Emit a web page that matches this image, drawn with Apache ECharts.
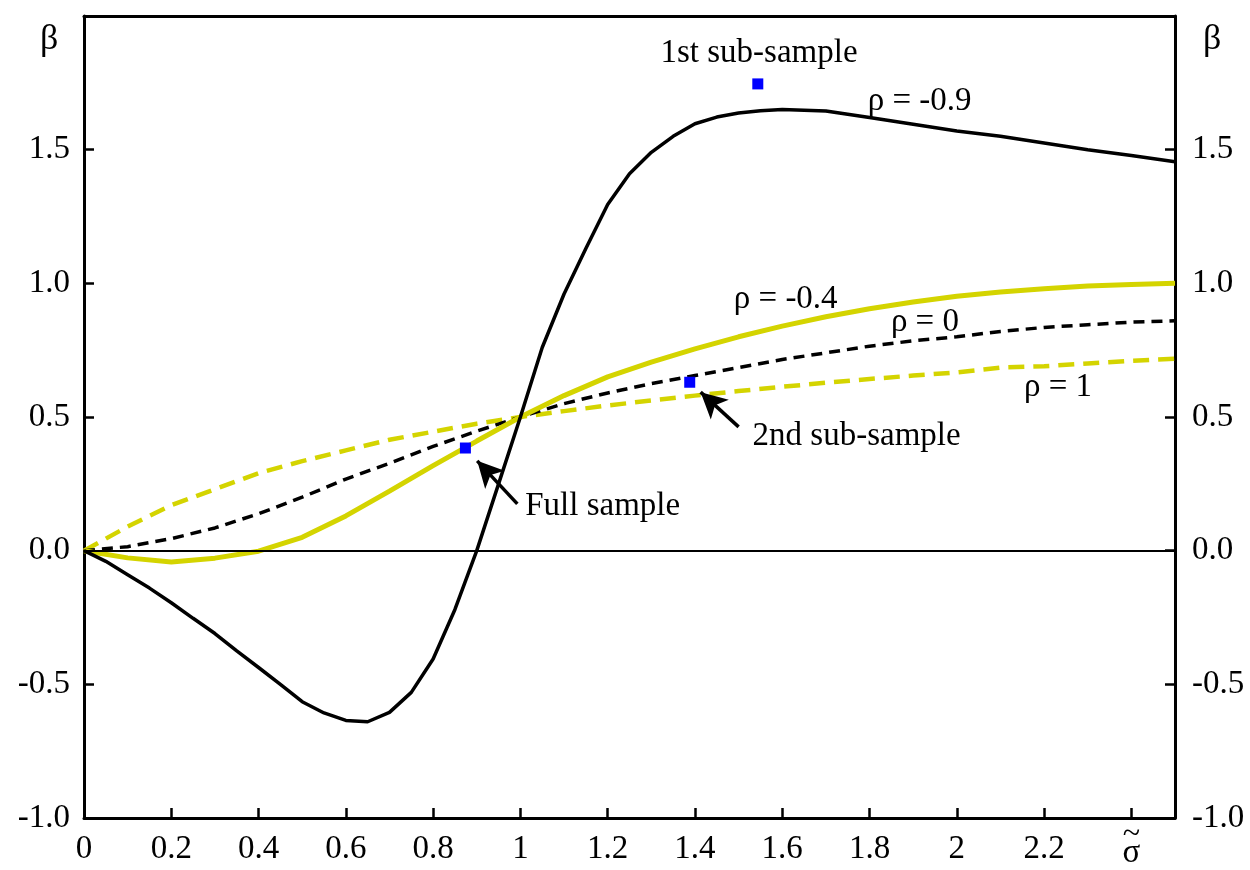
<!DOCTYPE html>
<html>
<head>
<meta charset="utf-8">
<script src="https://cdn.jsdelivr.net/npm/echarts@6/dist/echarts.min.js"></script>
<style>
  html, body { margin: 0; padding: 0; background: #fff; }
  #chart { width: 1250px; height: 870px; }
</style>
</head>
<body>
<div id="chart"></div>
<script>
// x grid for the smooth curves
var gridX = [0, 0.1, 0.2, 0.3, 0.4, 0.5, 0.6, 0.7, 0.8, 0.9, 1.0, 1.1, 1.2, 1.3, 1.4,
  1.5, 1.6, 1.7, 1.8, 1.9, 2.0, 2.1, 2.2, 2.3, 2.4, 2.5]

// rho = -0.9 (finer steps)
var rhoM09X = [0, 0.05, 0.1, 0.15, 0.2, 0.25, 0.3, 0.35, 0.4, 0.45, 0.5, 0.55, 0.6, 0.65, 0.7,
  0.75, 0.8, 0.85, 0.9, 0.95, 1.0, 1.05, 1.1, 1.15, 1.2, 1.25, 1.3, 1.35, 1.4, 1.45, 1.5,
  1.55, 1.6, 1.7, 1.8, 1.9, 2.0, 2.1, 2.2, 2.3, 2.4, 2.5]
var rhoM09Y = [0, -0.04, -0.09, -0.14, -0.195, -0.253, -0.31, -0.375, -0.437, -0.5, -0.565,
  -0.607, -0.635, -0.64, -0.605, -0.53, -0.405, -0.22, 0.0, 0.25, 0.5, 0.76, 0.96, 1.13,
  1.295, 1.41, 1.49, 1.55, 1.597, 1.622, 1.637, 1.646, 1.65, 1.645, 1.62, 1.595, 1.57,
  1.55, 1.525, 1.50, 1.478, 1.455]

var rhoM04Y = [0, -0.027, -0.042, -0.028, -0.002, 0.05, 0.13, 0.223, 0.318, 0.41, 0.5,
  0.58, 0.65, 0.705, 0.755, 0.80, 0.84, 0.875, 0.905, 0.93, 0.952, 0.968, 0.98, 0.99, 0.996, 1.0]
var rho0Y = [0, 0.015, 0.045, 0.085, 0.138, 0.2, 0.268, 0.327, 0.39, 0.447, 0.5, 0.55,
  0.59, 0.625, 0.655, 0.685, 0.715, 0.74, 0.765, 0.785, 0.80, 0.82, 0.835, 0.845, 0.855, 0.86]
var rho1Y = [0, 0.09, 0.17, 0.23, 0.29, 0.335, 0.375, 0.415, 0.445, 0.475, 0.5, 0.522,
  0.543, 0.562, 0.58, 0.597, 0.613, 0.628, 0.642, 0.655, 0.667, 0.685, 0.69, 0.70, 0.71, 0.718]

// estimated samples (blue squares)
var sampleX = [0.874, 1.544, 1.388]
var sampleY = [0.384, 1.746, 0.63]

// text notes on the plot (left edge, vertical centre)
var noteText = ['1st sub-sample', '\u03c1 = -0.9', '\u03c1 = -0.4', '\u03c1 = 0', '\u03c1 = 1',
  '2nd sub-sample', 'Full sample']
var noteX = [1.321, 1.796, 1.489, 1.849, 2.154, 1.532, 1.011]
var noteY = [1.862, 1.68, 0.94, 0.854, 0.612, 0.429, 0.164]

// arrows: tail -> tip
var arrowFrom = [[0.993, 0.175], [1.5, 0.463]]
var arrowTo = [[0.901, 0.336], [1.413, 0.593]]

var FONT = 'Liberation Serif'
var FSIZE = 33
var YELLOW = '#d4d400'

function pairs(xs, ys) {
  return xs.map(function (x, i) { return [x, ys[i]] })
}

var chart = echarts.init(document.getElementById('chart'))

var axisLine = { show: true, onZero: false, lineStyle: { color: '#000', width: 3 } }
var ticks = { show: true, inside: true, length: 10, lineStyle: { color: '#000', width: 2.5 } }
var labelStyle = { color: '#000', fontFamily: FONT, fontSize: FSIZE }

var option = {
  backgroundColor: '#fff',
  animation: false,
  grid: { left: 84, right: 75, top: 16, bottom: 50 },
  xAxis: [{
    type: 'value',
    min: 0,
    max: 2.5,
    interval: 0.2,
    position: 'bottom',
    axisLine: axisLine,
    axisTick: ticks,
    splitLine: { show: false },
    axisLabel: Object.assign({
      margin: 15,
      showMaxLabel: false,
      formatter: function (v) {
        if (Math.abs(v - 2.4) < 1e-6) return '{t|~}\n{s|\u03c3}'
        if (v > 2.45) return ''
        return String(Number(v.toFixed(1)))
      },
      rich: {
        t: { fontFamily: FONT, fontSize: 32, lineHeight: 4, color: '#000', align: 'center' },
        s: { fontFamily: FONT, fontSize: FSIZE, color: '#000', align: 'center' }
      }
    }, labelStyle)
  }, {
    type: 'value',
    min: 0,
    max: 2.5,
    position: 'top',
    axisLine: axisLine,
    axisTick: { show: false },
    axisLabel: { show: false },
    splitLine: { show: false }
  }],
  yAxis: [{
    type: 'value',
    min: -1,
    max: 2,
    interval: 0.5,
    position: 'left',
    axisLine: axisLine,
    axisTick: ticks,
    splitLine: { show: false },
    axisLabel: Object.assign({
      margin: 14,
      formatter: function (v) { return v > 1.9 ? '' : v.toFixed(1) }
    }, labelStyle)
  }, {
    type: 'value',
    min: -1,
    max: 2,
    interval: 0.5,
    position: 'right',
    axisLine: axisLine,
    axisTick: ticks,
    splitLine: { show: false },
    axisLabel: Object.assign({
      margin: 17,
      formatter: function (v) { return v > 1.9 ? '' : v.toFixed(1) }
    }, labelStyle)
  }],
  graphic: [
    { type: 'text', left: 40, top: 22, style: { text: '\u03b2', font: '36px ' + FONT, fill: '#000' } },
    { type: 'text', left: 1203, top: 22, style: { text: '\u03b2', font: '36px ' + FONT, fill: '#000' } }
  ],
  series: [
    {
      name: 'rho = 1',
      type: 'line',
      data: pairs(gridX, rho1Y),
      showSymbol: false,
      lineStyle: { color: YELLOW, width: 4.5, type: [16, 9] },
      markLine: {
        silent: true,
        symbol: 'none',
        label: { show: false },
        lineStyle: { color: '#000', width: 2, type: 'solid' },
        data: [{ yAxis: 0 }]
      },
      z: 2
    },
    {
      name: 'rho = 0',
      type: 'line',
      data: pairs(gridX, rho0Y),
      showSymbol: false,
      lineStyle: { color: '#000', width: 3.5, type: [11, 7] },
      z: 3
    },
    {
      name: 'rho = -0.4',
      type: 'line',
      data: pairs(gridX, rhoM04Y),
      showSymbol: false,
      lineStyle: { color: YELLOW, width: 5 },
      z: 4
    },
    {
      name: 'rho = -0.9',
      type: 'line',
      data: pairs(rhoM09X, rhoM09Y),
      showSymbol: false,
      lineStyle: { color: '#000', width: 3.5 },
      z: 5
    },
    {
      name: 'samples',
      type: 'scatter',
      data: pairs(sampleX, sampleY),
      symbol: 'rect',
      symbolSize: 11,
      itemStyle: { color: '#0000ff', opacity: 1 },
      markLine: {
        silent: true,
        symbol: ['none', 'arrow'],
        symbolSize: [20, 26],
        label: { show: false },
        lineStyle: { color: '#000', width: 3.5, type: 'solid', opacity: 1 },
        data: arrowFrom.map(function (p, i) {
          return [{ coord: p }, { coord: arrowTo[i] }]
        })
      },
      z: 6
    },
    {
      name: 'notes',
      type: 'scatter',
      symbolSize: 0,
      silent: true,
      itemStyle: { opacity: 1 },
      data: noteText.map(function (t, i) {
        return { name: t, value: [noteX[i], noteY[i]] }
      }),
      label: {
        show: true,
        position: 'right',
        distance: 0,
        formatter: function (p) { return p.name },
        color: '#000',
        opacity: 1,
        fontFamily: FONT,
        fontSize: FSIZE
      },
      z: 7
    }
  ]
}

chart.setOption(option)
</script>
</body>
</html>
